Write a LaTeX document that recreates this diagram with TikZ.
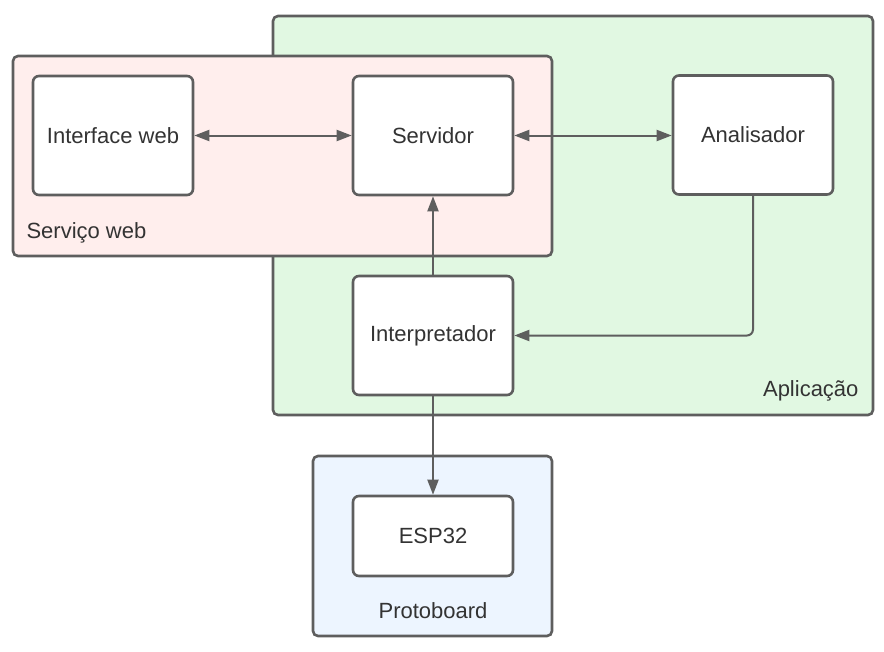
\documentclass[tikz,border=0pt]{standalone}
\usepackage{fontspec}
\setmainfont{Liberation Sans}
\usetikzlibrary{arrows.meta}
\definecolor{strokegray}{HTML}{5E5E5E}
\definecolor{textgray}{HTML}{333333}
\definecolor{appgreen}{HTML}{E1F8E2}
\definecolor{webpink}{HTML}{FFEEED}
\definecolor{protoblue}{HTML}{EDF5FF}
\begin{document}
\begin{tikzpicture}[x=1pt,y=-1pt,
  every node/.style={font=\fontsize{22}{26}\selectfont, text=textgray},
  container/.style={draw=strokegray, line width=2.6pt, rounded corners=5pt, inner sep=0pt},
  block/.style={draw=strokegray, fill=white, line width=2.6pt, rounded corners=6pt, minimum width=160pt, minimum height=119pt, inner sep=0pt},
  link/.style={draw=strokegray, line width=2pt, -{Triangle[length=15pt,width=11pt]}},
  duallink/.style={draw=strokegray, line width=2pt, {Triangle[length=15pt,width=11pt]}-{Triangle[length=15pt,width=11pt]}}
]
\useasboundingbox (0,0) rectangle (884,651);
% containers
\node[container, fill=appgreen, minimum width=600pt, minimum height=399pt] (app) at (573,215.5) {};
\node[container, fill=webpink, minimum width=539pt, minimum height=200pt] (web) at (282.5,156) {};
\node[container, fill=protoblue, minimum width=239pt, minimum height=180pt] (proto) at (432.5,546) {};
% container labels
\node[anchor=west] (weblbl) at (23,233) {Serviço web};
\node[anchor=east] (applbl) at (862,391) {Aplicação};
\node (protolbl) at (433,611) {Protoboard};
% blocks
\node[block] (iface) at (113,135.5) {Interface web};
\node[block] (serv) at (433,135.5) {Servidor};
\node[block] (anal) at (753,135) {Analisador};
\node[block] (interp) at (433,335.5) {Interpretador};
\node[block, minimum height=80pt] (esp) at (433,536) {ESP32};
% connectors
\draw[duallink] (iface.east) -- (serv.west);
\draw[duallink] (serv.east) -- (serv.east -| anal.west);
\draw[link] (interp.north) -- (serv.south);
\draw[link, rounded corners=6pt] (anal.south) |- (interp.east);
\draw[link] (interp.south) -- (esp.north);
\end{tikzpicture}
\end{document}
